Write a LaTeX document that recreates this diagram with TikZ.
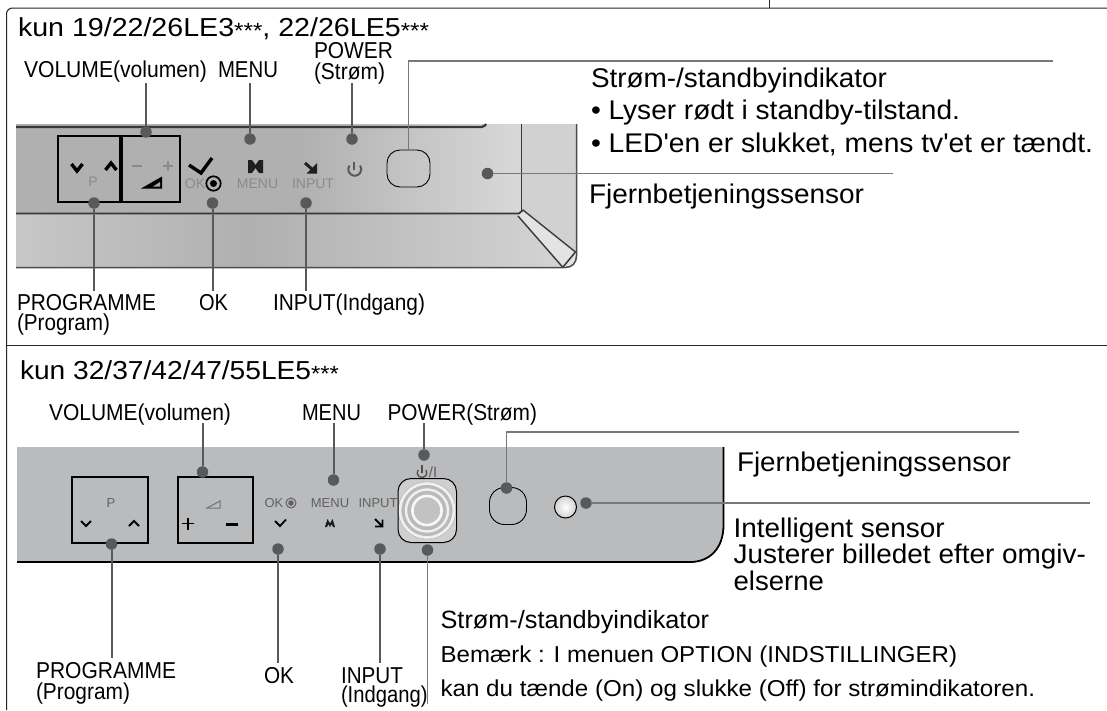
\documentclass[tikz,border=0pt]{standalone}
\usepackage{fontspec}
\usepackage{graphicx}
\setmainfont{Liberation Sans}
\newfontfamily\aposf{Liberation Sans}
\definecolor{dotc}{HTML}{58595B}
\definecolor{linec}{HTML}{77787A}
\definecolor{panelc}{HTML}{BABBBD}
\definecolor{iconc}{HTML}{8A8B8D}
\tikzset{
  lbltext/.style={inner sep=0pt,outer sep=0pt,anchor=base west,text=black},
  dotn/.style={circle,fill=dotc,draw=none,minimum size=11.5pt,inner sep=0pt,outer sep=0pt},
  thickcon/.style={draw=dotc,line width=2pt},
  thincon/.style={draw=linec,line width=1.1pt},
  btn/.style={draw=black,line width=1.3pt,inner sep=0pt,outer sep=0pt},
  sens/.style={draw=black,line width=.9pt,inner sep=0pt,outer sep=0pt},
  frame/.style={draw=black!85,line width=1pt},
  tinyl/.style={inner sep=0pt,outer sep=0pt,text=iconc,font=\fontsize{14pt}{14pt}\selectfont},
  tinyd/.style={inner sep=0pt,outer sep=0pt,text=black!62,font=\fontsize{13pt}{13pt}\selectfont},
  iconl/.style={draw=black,line width=3pt,line cap=butt},
  panelline/.style={draw=black!78,line width=1.7pt},
}
\newcommand{\lbl}[6]{\node[lbltext] (#1) at (#2,#3) {\fontsize{#4pt}{#4pt}\selectfont\resizebox{#5pt}{\height}{#6}};}
\newcommand{\stars}{\raisebox{-2pt}{\fontsize{22pt}{22pt}\selectfont***}}
\newcommand{\sq}{{\aposf\char39}}
\begin{document}
\begin{tikzpicture}[x=1pt,y=-1pt]
\useasboundingbox (0,0) rectangle (1107,710);
\fill[white] (0,0) rectangle (1107,710);
% --- frame
\coordinate (fr1) at (1107,8);
\coordinate (fr2) at (6.5,8);
\coordinate (fr3) at (6.5,710);
\coordinate (dv1) at (6.5,345);
\coordinate (dv2) at (1107,345);
\coordinate (tk1) at (769,0);
\coordinate (tk2) at (769,8);
\draw[frame,rounded corners=6pt] (fr1) -- (fr2) -- (fr3);
\draw[frame] (dv1) -- (dv2);
\draw[frame] (tk1) -- (tk2);
% --- top panel
\shade[left color=black!31,right color=black!31] (16,124) rectangle (300,214);
\shade[left color=black!31,right color=black!15] (300,124) rectangle (522,214);
\fill[black!18] (522,124) -- (576.5,124) -- (576.5,254) -- (522,211) -- cycle;
\shade[left color=black!22,right color=black!31] (16,214) rectangle (250,267.5);
\shade[left color=black!31,right color=black!17] (250,214) -- (519,214) -- (563,267.5) -- (250,267.5) -- cycle;
\fill[black!11] (523,210) -- (575.5,252) -- (576,258) .. controls (575,263) and (571,267) .. (563,267.5) -- (518,216) -- cycle;
\draw[panelline,line width=2.2pt,rounded corners=2pt] (16,127) -- (484,127) -- (486,124);
\draw[panelline] (521.5,124) -- (521.5,211);
\draw[panelline] (16,213.5) -- (519,213.5) -- (523,210);
\draw[panelline,line width=1.4pt] (523,210) -- (575.5,252);
\draw[panelline,line width=1.4pt] (518,216) -- (563,267.5);
\draw[panelline,line width=1.5pt] (563,267) -- (575.5,252);
\draw[panelline,line width=1.5pt,black!70] (576.5,124) -- (576.5,256) .. controls (576.5,263) and (572,267.5) .. (565,267.5) -- (16,267.5);
\node[btn,minimum width=62pt,minimum height=66pt] (pbox1) at (89,169) {};
\node[btn,minimum width=58pt,minimum height=66pt] (vbox1) at (151,169) {};
% top icons
\draw[iconl,line width=3.4pt] (71.5,164) -- (77,171) -- (82.5,164);
\draw[iconl,line width=3.4pt] (105.5,170) -- (111,163) -- (116.5,170);
\node[tinyl] (pl1) at (93,182) {P};
\draw[iconc,line width=1.7pt] (132,166) -- (142,166);
\draw[iconc,line width=1.7pt] (163,166) -- (173,166) (168,161) -- (168,171);
\fill[black] (141,188.5) -- (162,176.5) -- (162,188.5) -- cycle;
\fill[black!35] (153,186.5) -- (160,182) -- (160,186.5) -- cycle;
\draw[iconl,line width=3.4pt] (189,165) -- (201,173) -- (212,158);
\node[tinyl] (okl1) at (195,183.5) {OK};
\draw[black,line width=1.7pt] (213.5,183.5) circle (7.2);
\fill[black] (213.5,183.5) circle (3.5);
\fill[black!88] (248,160) -- (252,160) -- (255.5,165) -- (259,160) -- (263,160) -- (263,173) -- (259,173) -- (255.5,168) -- (252,173) -- (248,173) -- cycle;
\node[tinyl] (ml1) at (257.5,183.5) {MENU};
\draw[black!88,line width=3pt] (305,163) -- (313,170);
\fill[black!88] (317,173.5) -- (317,163) -- (306.5,173.5) -- cycle;
\node[tinyl] (il1) at (313,183.5) {INPUT};
\draw[black!65,line width=2pt] (349.5,165.5) arc[start angle=215,end angle=-35,radius=6.5];
\draw[black!65,line width=2pt] (354,162) -- (354,169.5);
\node[sens,minimum width=43pt,minimum height=37pt,rounded corners=13pt] (sens1) at (408.5,168.5) {};
% --- top labels
\lbl{t1}{18}{36}{26}{411}{kun 19/22/26LE3\stars, 22/26LE5\stars}
\lbl{pw1}{314}{58}{23}{79}{POWER}
\lbl{pw1b}{314}{79}{23}{71}{(Strøm)}
\lbl{vol1}{24}{77}{23}{183}{VOLUME(volumen)}
\lbl{men1}{218}{77}{23}{60}{MENU}
\lbl{prg1}{17}{310}{23}{139}{PROGRAMME}
\lbl{prg1b}{17}{330}{23}{93}{(Program)}
\lbl{ok1}{199}{310}{23}{29}{OK}
\lbl{inp1}{273}{310}{23}{152}{INPUT(Indgang)}
\lbl{st1}{591}{87}{27}{296}{Strøm-/standbyindikator}
\lbl{st1b}{591}{119}{27}{369}{• Lyser rødt i standby-tilstand.}
\lbl{st1c}{591}{152}{27}{502}{• LED\sq en er slukket, mens tv\sq et er tændt.}
\lbl{fj1}{589}{203}{27}{275}{Fjernbetjeningssensor}
% top dots + connectors
\node[dotn] (d1v) at (146,132) {};
\node[dotn] (d1m) at (250,139) {};
\node[dotn] (d1w) at (352,139) {};
\node[dotn] (d1p) at (94,203) {};
\node[dotn] (d1o) at (212.5,203) {};
\node[dotn] (d1i) at (306,203) {};
\node[dotn] (d1r) at (487.5,173.5) {};
\coordinate (c1v) at (146,83);
\coordinate (c1m) at (250,83);
\coordinate (c1w) at (352,83);
\coordinate (c1p) at (94,291);
\coordinate (c1o) at (212.5,291);
\coordinate (c1i) at (306,291);
\coordinate (c1r) at (893,173.5);
\coordinate (c1s) at (1053,61);
\draw[thickcon] (d1v) -- (c1v);
\draw[thickcon] (d1m) -- (c1m);
\draw[thickcon] (d1w) -- (c1w);
\draw[thickcon] (d1p) -- (c1p);
\draw[thickcon] (d1o) -- (c1o);
\draw[thickcon] (d1i) -- (c1i);
\draw[thincon] (d1r) -- (c1r);
\draw[thincon] (sens1.north) |- (c1s);
% --- lower panel
\fill[panelc] (17,447) -- (724,447) -- (724,525) .. controls (724,548) and (710,562) .. (690,562) -- (17,562) -- cycle;
\draw[black,line width=1.8pt] (17,562) -- (690,562) .. controls (710,562) and (723.5,548) .. (723.5,525) -- (723.5,447);
\node[btn,minimum width=76pt,minimum height=66pt] (pbox2) at (110,510) {};
\node[btn,minimum width=75pt,minimum height=66pt] (vbox2) at (215.5,510) {};
\node[tinyd] (pl2) at (111,503) {P};
\draw[black,line width=2pt] (81,521) -- (86,526) -- (91,521);
\draw[black,line width=2pt] (129,526) -- (134,521) -- (139,526);
\draw[black!55,line width=1pt] (207,508) -- (220,508) -- (220,501) -- cycle;
\draw[black,line width=1.8pt] (182,523.5) -- (194,523.5) (188,517.5) -- (188,529.5);
\draw[black,line width=2.2pt] (226,524.5) -- (238,524.5);
\node[tinyd] (okl2) at (274,503) {OK};
\draw[black!62,line width=1pt] (291,503) circle (5);
\fill[black!62] (291,503) circle (2.8);
\draw[black,line width=1.8pt] (275,521) -- (280,526) -- (286,519.5);
\node[tinyd] (ml2) at (330,503) {MENU};
\fill[black!90] (325,527) -- (327.5,519) -- (330,523.5) -- (332.5,519) -- (335,527) -- (333,527) -- (331.7,524) -- (330,527) -- (328.3,524) -- (327,527) -- cycle;
\node[tinyd] (il2) at (378,503) {INPUT};
\draw[black,line width=1.8pt] (375,519) -- (382.5,526.5) (375,526.5) -- (382.5,526.5) -- (382.5,519.5);
\draw[black!70,line width=1.3pt] (418,470) arc[start angle=215,end angle=-35,radius=4.8];
\draw[black!70,line width=1.3pt] (422,465) -- (422,473);
\node[tinyd,font=\fontsize{15pt}{15pt}\selectfont] (sl2) at (433,472.5) {/I};
\begin{scope}
\clip[rounded corners=13pt] (398,479) rectangle (456.5,542);
\fill[black!19] (398,479) rectangle (456.5,542);
\fill[black!27] (427,510.5) circle (29);
\draw[black!6,line width=2.6pt] (427,510.5) circle (27);
\draw[black!6,line width=2.4pt] (427,510.5) circle (21);
\draw[black!3,line width=2.8pt] (427,510.5) circle (14.5);
\fill[black!24] (427,510.5) circle (13);
\end{scope}
\node[draw=black,line width=1pt,inner sep=0pt,outer sep=0pt,rounded corners=13pt,minimum width=58.5pt,minimum height=64pt] (pw2) at (427.25,510.5) {};
\node[sens,minimum width=37pt,minimum height=37pt,rounded corners=15pt] (sens2) at (508,506) {};
\node[circle,draw=black,line width=1pt,inner sep=0pt,minimum size=22pt,inner color=white,outer color=black!18] (ls2) at (565.5,507) {};
% --- lower labels
\lbl{t2}{20}{379}{26}{319}{kun 32/37/42/47/55LE5\stars}
\lbl{vol2}{49}{420}{23}{182}{VOLUME(volumen)}
\lbl{men2}{302}{420}{23}{59}{MENU}
\lbl{pw2t}{387.5}{420}{23}{149.5}{POWER(Strøm)}
\lbl{prg2}{36}{678}{23}{140}{PROGRAMME}
\lbl{prg2b}{36}{699}{23}{94}{(Program)}
\lbl{ok2}{264}{683}{23}{30}{OK}
\lbl{inp2}{341}{683}{23}{62}{INPUT}
\lbl{inp2b}{341}{702}{23}{86.5}{(Indgang)}
\lbl{st2}{440.6}{628}{25}{268.4}{Strøm-/standbyindikator}
\lbl{st2b}{440.6}{662}{23}{516.4}{Bemærk : I menuen OPTION (INDSTILLINGER)}
\lbl{st2c}{440.6}{696}{23}{594.4}{kan du tænde (On) og slukke (Off) for strømindikatoren.}
\lbl{fj2}{737}{471}{27}{274}{Fjernbetjeningssensor}
\lbl{is2}{733.6}{537}{27}{211}{Intelligent sensor}
\lbl{is2b}{733.6}{563}{27}{352.4}{Justerer billedet efter omgiv-}
\lbl{is2c}{733.6}{590}{27}{90.4}{elserne}
% lower dots + connectors
\node[dotn] (d2v) at (202.5,472) {};
\node[dotn] (d2m) at (333.5,480) {};
\node[dotn] (d2w) at (424,455) {};
\node[dotn] (d2p) at (111.5,544) {};
\node[dotn] (d2o) at (278,549) {};
\node[dotn] (d2i) at (380,549) {};
\node[dotn] (d2l) at (427.5,550) {};
\node[dotn] (d2s) at (506.5,488) {};
\node[dotn] (d2n) at (586,503) {};
\coordinate (c2v) at (202.5,423);
\coordinate (c2m) at (333.5,423);
\coordinate (c2w) at (424,423);
\coordinate (c2p) at (111.5,658);
\coordinate (c2o) at (278,663);
\coordinate (c2i) at (380,663);
\coordinate (c2l) at (427.5,704);
\coordinate (c2s) at (1018.6,432);
\coordinate (c2n) at (1090,503);
\draw[thickcon] (d2v) -- (c2v);
\draw[thickcon] (d2m) -- (c2m);
\draw[thickcon] (d2w) -- (c2w);
\draw[thickcon] (d2p) -- (c2p);
\draw[thickcon] (d2o) -- (c2o);
\draw[thickcon] (d2i) -- (c2i);
\draw[thincon] (d2l) -- (c2l);
\draw[thincon] (d2s) |- (c2s);
\draw[thincon] (d2n) -- (c2n);
\end{tikzpicture}
\end{document}
